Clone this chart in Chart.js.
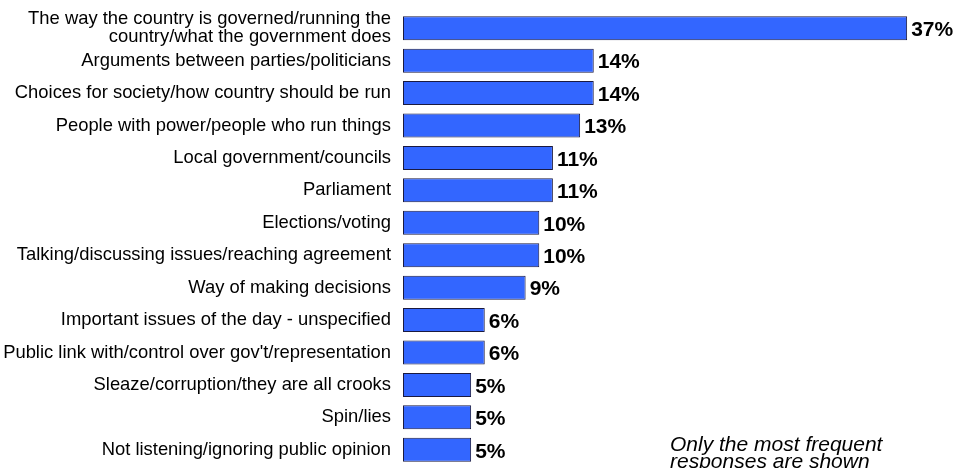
<!DOCTYPE html>
<html>
<head>
<meta charset="utf-8">
<script src="https://cdn.jsdelivr.net/npm/chart.js@4/dist/chart.umd.min.js"></script>
<style>
  html, body { margin: 0; padding: 0; background: #fff; }
  #wrap { position: relative; width: 956px; height: 468px; overflow: hidden; }
</style>
</head>
<body>
<div id="wrap"><canvas id="myChart" width="956" height="468"></canvas></div>
<script>
const categories = [
  ["The way the country is governed/running the", "country/what the government does"],
  "Arguments between parties/politicians",
  "Choices for society/how country should be run",
  "People with power/people who run things",
  "Local government/councils",
  "Parliament",
  "Elections/voting",
  "Talking/discussing issues/reaching agreement",
  "Way of making decisions",
  "Important issues of the day - unspecified",
  "Public link with/control over gov't/representation",
  "Sleaze/corruption/they are all crooks",
  "Spin/lies",
  "Not listening/ignoring public opinion"
];
const values = [37, 14, 14, 13, 11, 11, 10, 10, 9, 6, 6, 5, 5, 5];
const noteLines = ["Only the most frequent", "responses are shown"];

const valueLabels = {
  id: "valueLabels",
  afterDatasetsDraw(chart) {
    const ctx = chart.ctx;
    const meta = chart.getDatasetMeta(0);
    ctx.save();
    ctx.font = "bold 21px 'Liberation Sans', Arial, sans-serif";
    ctx.fillStyle = "#000";
    ctx.textAlign = "left";
    ctx.textBaseline = "middle";
    meta.data.forEach((bar, i) => {
      ctx.fillText(values[i] + "%", bar.x + 4, bar.y + 2);
    });
    ctx.restore();
  }
};

const note = {
  id: "note",
  afterDraw(chart) {
    const ctx = chart.ctx;
    ctx.save();
    ctx.font = "italic 21px 'Liberation Sans', Arial, sans-serif";
    ctx.fillStyle = "#000";
    ctx.textBaseline = "alphabetic";
    ctx.fillText(noteLines[0], 670, 451);
    ctx.fillText(noteLines[1], 670, 468);
    ctx.restore();
  }
};

const ctx1 = document.getElementById("myChart");
new Chart(ctx1, {
  type: "bar",
  data: {
    labels: categories,
    datasets: [{
      data: values,
      backgroundColor: "#3366FF",
      borderColor: "#1a1a40",
      borderWidth: 1,
      borderSkipped: false,
      categoryPercentage: 1,
      barPercentage: 0.74
    }]
  },
  options: {
    indexAxis: "y",
    responsive: false,
    animation: false,
    layout: { padding: { top: 12, bottom: 2, left: 0, right: 8 } },
    plugins: {
      legend: { display: false },
      tooltip: { enabled: false }
    },
    scales: {
      x: {
        display: false,
        min: 0,
        max: 40
      },
      y: {
        grid: { display: false, drawTicks: false },
        border: { display: false },
        afterFit(scale) {
          scale.width = 403;
          scale.paddingTop = 0;
          scale.paddingBottom = 0;
        },
        ticks: {
          autoSkip: false,
          padding: 12,
          color: "#000",
          font: { size: 18.4, family: "'Liberation Sans', Arial, sans-serif", lineHeight: 1.0 }
        }
      }
    }
  },
  plugins: [valueLabels, note]
});
</script>
</body>
</html>
